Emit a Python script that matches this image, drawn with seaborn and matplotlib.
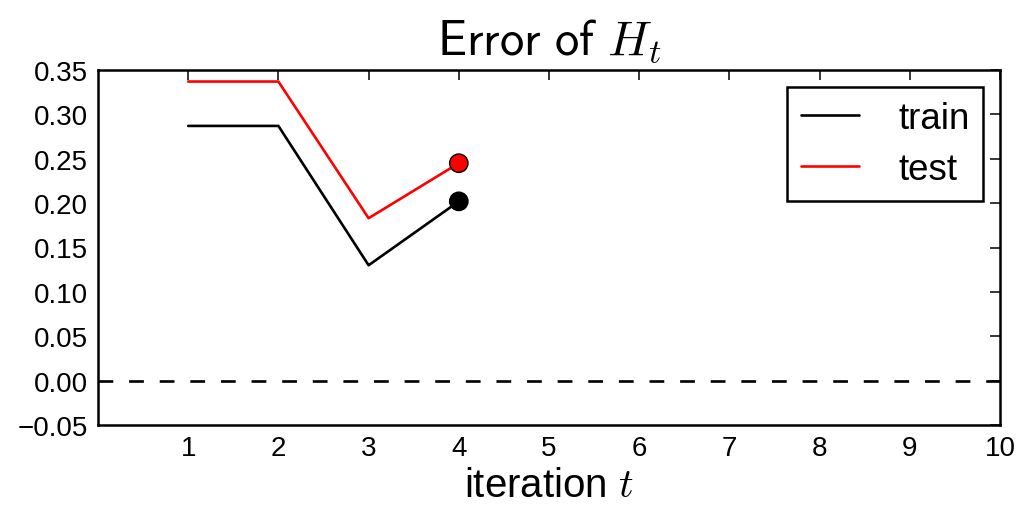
import matplotlib
matplotlib.use("Agg")
import matplotlib.pyplot as plt
import seaborn as sns
import pandas as pd

iterations = [1, 2, 3, 4]
train_err = [0.287, 0.287, 0.130, 0.202]
test_err = [0.337, 0.337, 0.183, 0.245]
x_ticks = [1, 2, 3, 4, 5, 6, 7, 8, 9, 10]
y_ticks = [-0.05, 0.00, 0.05, 0.10, 0.15, 0.20, 0.25, 0.30, 0.35]

sns.set_theme(style="white")
plt.rcParams['font.family'] = ['Liberation Sans', 'DejaVu Sans']
plt.rcParams['mathtext.fontset'] = 'cm'
plt.rcParams['axes.unicode_minus'] = True
plt.rcParams['text.color'] = 'black'
plt.rcParams['axes.labelcolor'] = 'black'

df = pd.DataFrame({
    "iteration": iterations * 2,
    "error": train_err + test_err,
    "set": ["train"] * len(iterations) + ["test"] * len(iterations),
})

fig = plt.figure(figsize=(10.35, 5.06), dpi=100)
ax = fig.add_axes([98 / 1035, 1 - 426 / 506, (1000 - 98) / 1035, (426 - 71) / 506])

sns.lineplot(data=df, x="iteration", y="error", hue="set",
             palette={"train": "black", "test": "red"}, ax=ax, linewidth=1.9)
last = df[df["iteration"] == iterations[-1]]
sns.scatterplot(data=last, x="iteration", y="error", hue="set",
                palette={"train": "black", "test": "red"}, ax=ax, s=175,
                edgecolor="black", linewidth=1, legend=False, zorder=5)
ax.axhline(0, color="black", linestyle=(0, (5.6, 6.0)), linewidth=1.9)

ax.set_xlim(0, 10)
ax.set_ylim(-0.05, 0.35)
ax.set_xticks(x_ticks)
ax.set_yticks(y_ticks)
ax.set_yticklabels([f"{v:.2f}".replace("-", "\u2212") for v in y_ticks])
ax.tick_params(direction="in", length=7.5, width=1.1, top=True, right=True,
               labelsize=20, colors="black", pad=7)
for s in ax.spines.values():
    s.set_color("black")
    s.set_linewidth(1.8)

ax.set_title(r"$\mathsf{Error\ of}\ H_t$", fontsize=35, pad=12)
ax.set_xlabel("iteration $t$", fontsize=29, labelpad=4)
ax.set_ylabel("")

leg = ax.legend(loc="upper right", fontsize=26.5, frameon=True, fancybox=False,
                edgecolor="black", framealpha=1, handlelength=1.6, borderpad=0.38,
                handletextpad=1.05, labelspacing=0.45, borderaxespad=0.45)
leg.get_frame().set_linewidth(1.8)
for h in leg.get_lines():
    h.set_linewidth(1.9)

fig.savefig("out.png", dpi=100)
